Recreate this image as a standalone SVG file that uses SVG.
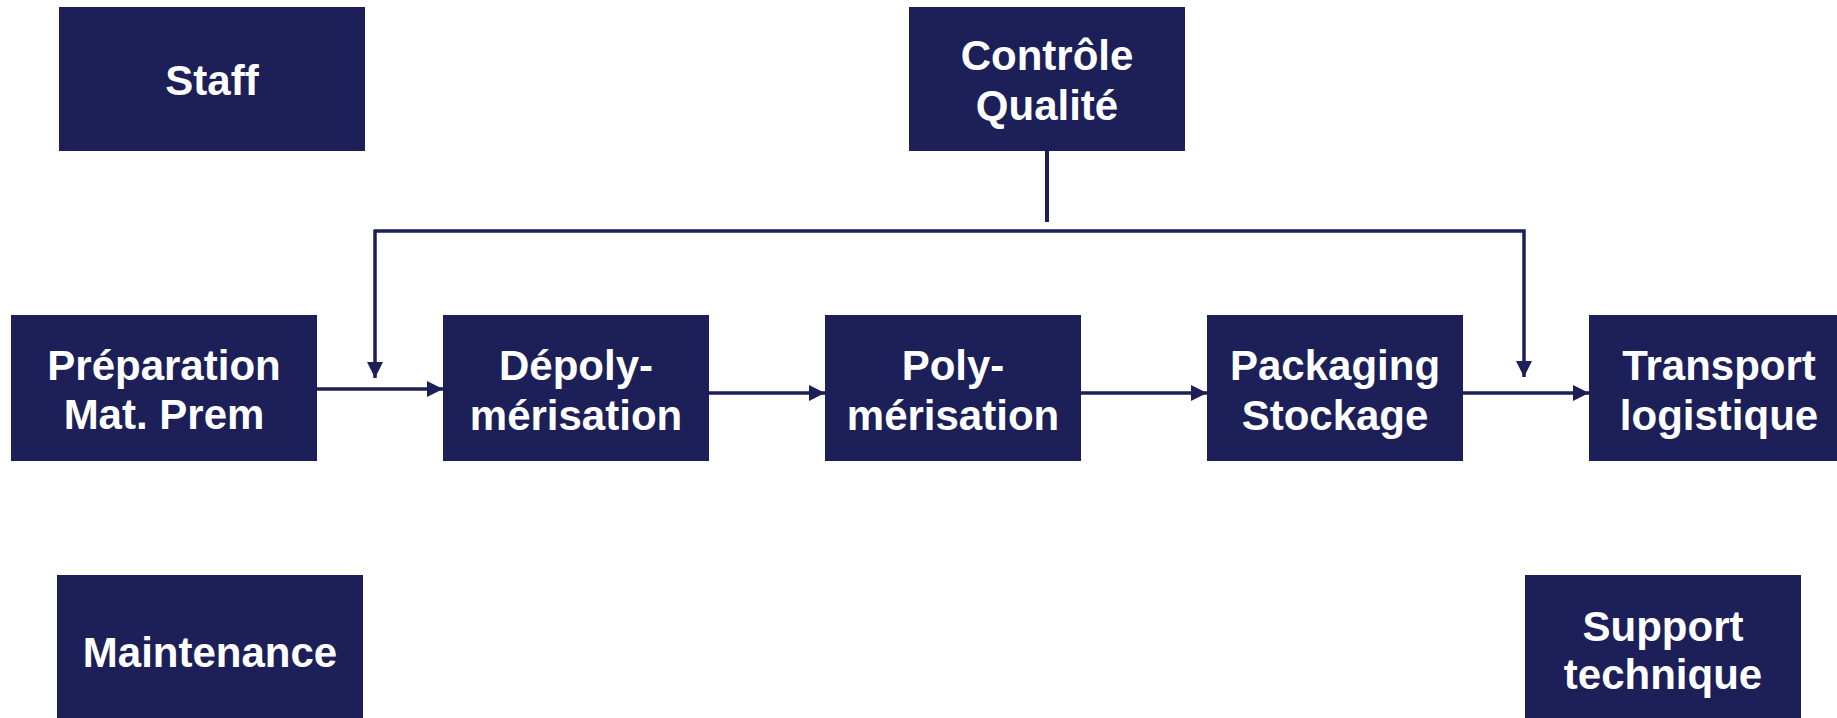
<svg xmlns="http://www.w3.org/2000/svg" width="1837" height="718" viewBox="0 0 1837 718">
<style>
.box{fill:#1d1f58}
.t{font-family:"Liberation Sans",Arial,sans-serif;font-weight:bold;font-size:42px;fill:#ffffff;text-anchor:middle}
.c{stroke:#1d1f58;stroke-width:3.5;fill:none}
</style>
<defs>
<marker id="ah" viewBox="0 0 16 16" markerUnits="userSpaceOnUse" markerWidth="16" markerHeight="16" refX="16" refY="8" orient="auto">
<path d="M0,0 L16,8 L0,16 z" fill="#1d1f58"/>
</marker>
</defs>
<rect width="1837" height="718" fill="#ffffff"/>
<g id="connectors">
<line class="c" x1="1047" y1="151" x2="1047" y2="222" style="stroke-width:4"/>
<polyline class="c" points="375,231 1524,231 1524,377" marker-end="url(#ah)"/>
<line class="c" x1="375" y1="229.5" x2="375" y2="378" marker-end="url(#ah)"/>
<line class="c" x1="317" y1="389" x2="443" y2="389" marker-end="url(#ah)"/>
<line class="c" x1="709" y1="393" x2="825" y2="393" marker-end="url(#ah)"/>
<line class="c" x1="1081" y1="393" x2="1207" y2="393" marker-end="url(#ah)"/>
<line class="c" x1="1463" y1="393" x2="1589" y2="393" marker-end="url(#ah)"/>
</g>
<g id="staff"><rect class="box" x="59" y="7" width="306" height="144"/><text class="t" x="212" y="95">Staff</text></g>
<g id="controle"><rect class="box" x="909" y="7" width="276" height="144"/><text class="t" x="1047" y="70">Contrôle</text><text class="t" x="1047" y="120">Qualité</text></g>
<g id="preparation"><rect class="box" x="11" y="315" width="306" height="146"/><text class="t" x="164" y="380">Préparation</text><text class="t" x="164" y="429">Mat. Prem</text></g>
<g id="depoly"><rect class="box" x="443" y="315" width="266" height="146"/><text class="t" x="576" y="380">Dépoly-</text><text class="t" x="576" y="430">mérisation</text></g>
<g id="poly"><rect class="box" x="825" y="315" width="256" height="146"/><text class="t" x="953" y="380">Poly-</text><text class="t" x="953" y="430">mérisation</text></g>
<g id="packaging"><rect class="box" x="1207" y="315" width="256" height="146"/><text class="t" x="1335" y="380">Packaging</text><text class="t" x="1335" y="430">Stockage</text></g>
<g id="transport"><rect class="box" x="1589" y="315" width="260" height="146"/><text class="t" x="1719" y="380">Transport</text><text class="t" x="1719" y="430">logistique</text></g>
<g id="maintenance"><rect class="box" x="57" y="575" width="306" height="150"/><text class="t" x="210" y="667">Maintenance</text></g>
<g id="support"><rect class="box" x="1525" y="575" width="276" height="150"/><text class="t" x="1663" y="641">Support</text><text class="t" x="1663" y="689">technique</text></g>
</svg>
